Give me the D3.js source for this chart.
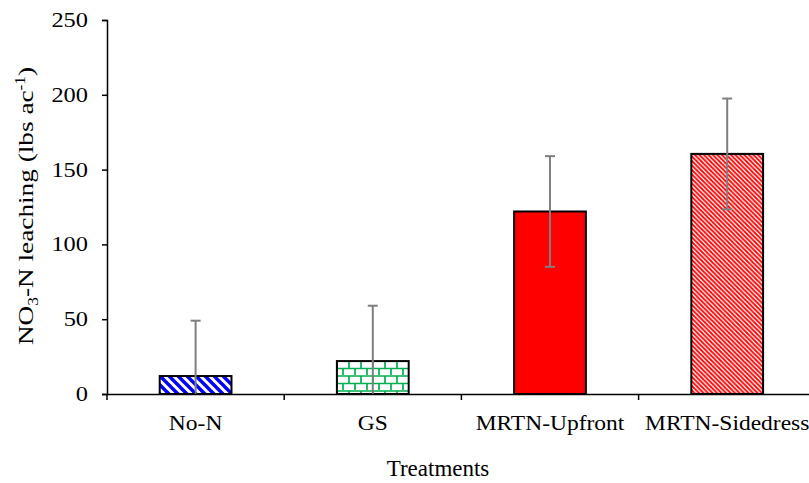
<!DOCTYPE html>
<html>
<head>
<meta charset="utf-8">
<script src="https://cdn.jsdelivr.net/npm/d3@7/dist/d3.min.js"></script>
<style>
  html, body { margin: 0; padding: 0; background: #fff; }
  svg { display: block; }
  text { font-family: "Liberation Serif", "Times New Roman", serif; fill: #000; }
</style>
</head>
<body>
<svg id="chart" width="809" height="483"></svg>
<script>
const categories = ["No-N", "GS", "MRTN-Upfront", "MRTN-Sidedress"];
const values = [12, 22, 122, 160.5];
const errors = [37, 37, 37, 37];
const yTicks = [0, 50, 100, 150, 200, 250];
const fills = ["url(#pNoN)", "url(#pGS)", "#FF0000", "url(#pSide)"];

const m = { left: 107, top: 20 };
const svg = d3.select("#chart");

// patterns
const defs = svg.append("defs");
const p1 = defs.append("pattern").attr("id", "pNoN").attr("patternUnits", "userSpaceOnUse")
  .attr("width", 9).attr("height", 9);
p1.append("rect").attr("width", 9).attr("height", 9).attr("fill", "#fff");
p1.append("path").attr("d", "M-3,-3 L12,12 M-3,6 L3,12 M6,-3 L12,3")
  .attr("stroke", "#0000FF").attr("stroke-width", 3.4);

const p2 = defs.append("pattern").attr("id", "pGS").attr("patternUnits", "userSpaceOnUse")
  .attr("width", 24).attr("height", 15);
p2.append("rect").attr("width", 24).attr("height", 15).attr("fill", "#fff");
p2.append("path").attr("d", "M0,1 H24 M0,8.5 H24 M1,1 V8.5 M13,1 V8.5 M7,8.5 V16 M19,8.5 V16")
  .attr("stroke", "#00B050").attr("stroke-width", 1.7);

const p3 = defs.append("pattern").attr("id", "pSide").attr("patternUnits", "userSpaceOnUse")
  .attr("width", 4.5).attr("height", 4.5);
p3.append("rect").attr("width", 4.5).attr("height", 4.5).attr("fill", "#fff");
p3.append("path").attr("d", "M-1,-1 L5.5,5.5 M-1,3.5 L1,5.5 M3.5,-1 L5.5,1")
  .attr("stroke", "#FF0000").attr("stroke-width", 1.8);

const x = d3.scaleBand().domain(categories).range([m.left, m.left + 4 * 177.2]).padding(0);
const y = d3.scaleLinear().domain([0, 250]).range([394, 20]);

const bw = x.bandwidth() * 0.405;

// bars
svg.append("g").selectAll("rect").data(categories).join("rect")
  .attr("x", (d) => x(d) + x.bandwidth() / 2 - bw / 2)
  .attr("y", (d, i) => y(values[i]))
  .attr("width", bw)
  .attr("height", (d, i) => y(0) - y(values[i]))
  .attr("fill", (d, i) => fills[i])
  .attr("stroke", "#000").attr("stroke-width", 2);

// error bars
const eg = svg.append("g").attr("stroke", "#7F7F7F").attr("stroke-width", 2);
categories.forEach((c, i) => {
  const cx = x(c) + x.bandwidth() / 2;
  const hi = values[i] + errors[i];
  const lo = Math.max(0, values[i] - errors[i]);
  eg.append("line").attr("x1", cx).attr("x2", cx).attr("y1", y(hi)).attr("y2", y(lo));
  eg.append("line").attr("x1", cx - 5).attr("x2", cx + 5).attr("y1", y(hi)).attr("y2", y(hi));
  if (values[i] - errors[i] > 0) {
    eg.append("line").attr("x1", cx - 5).attr("x2", cx + 5).attr("y1", y(lo)).attr("y2", y(lo));
  }
});

// y axis
const ySx = 1.22;
const yAxis = svg.append("g").attr("transform", `translate(${m.left},0)`)
  .call(d3.axisLeft(y).tickValues(yTicks).tickSize(5));
yAxis.select(".domain").attr("stroke", "#000").attr("stroke-width", 1.5);
yAxis.selectAll(".tick line").attr("stroke", "#000").attr("stroke-width", 1.5);
yAxis.selectAll(".tick text").attr("font-size", 20).attr("font-family", "Liberation Serif")
  .attr("x", -19 / ySx).attr("transform", `scale(${ySx},1)`);

// x axis
const xSx = 1.12;
const xAxis = svg.append("g").attr("transform", `translate(0,${y(0)})`)
  .call(d3.axisBottom(x).tickSize(0));
xAxis.select(".domain").attr("stroke", "#000").attr("stroke-width", 1.5);
xAxis.selectAll(".tick text").attr("font-size", 21).attr("font-family", "Liberation Serif")
  .attr("y", 36).attr("dy", 0).attr("transform", `scale(${xSx},1)`);
const bounds = categories.map((c) => x(c)).concat([x.range()[1]]);
xAxis.selectAll("line.bt").data(bounds).join("line").attr("class", "bt")
  .attr("x1", (d) => d).attr("x2", (d) => d).attr("y1", 0).attr("y2", 6)
  .attr("stroke", "#000").attr("stroke-width", 1.5);

// axis titles
svg.append("text").attr("x", 438).attr("y", 476).attr("text-anchor", "middle")
  .attr("font-size", 23).text("Treatments");

const yt = svg.append("text").attr("transform", "translate(33,206) rotate(-90) scale(1.24,1)")
  .attr("text-anchor", "middle").attr("font-size", 22);
yt.append("tspan").text("NO");
yt.append("tspan").attr("font-size", 14).attr("dy", 5).text("3");
yt.append("tspan").attr("dy", -5).text("-N leaching (lbs ac");
yt.append("tspan").attr("font-size", 14).attr("dy", -8).text("-1");
yt.append("tspan").attr("dy", 8).text(")");
</script>
</body>
</html>
